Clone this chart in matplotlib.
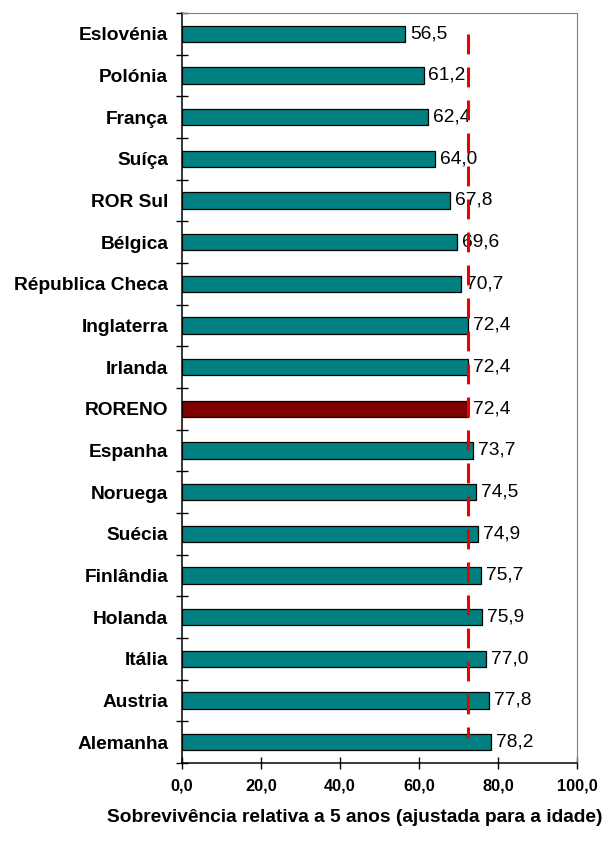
import numpy as np
import matplotlib
matplotlib.use('Agg')
import matplotlib.pyplot as plt
from matplotlib.ticker import FixedLocator

plt.rcParams['font.family'] = ['Liberation Sans', 'DejaVu Sans']

# ── Data ──────────────────────────────────────────────────────────────────
countries = ["Eslovénia", "Polónia", "França", "Suíça", "ROR Sul", "Bélgica",
             "Républica Checa", "Inglaterra", "Irlanda", "RORENO", "Espanha",
             "Noruega", "Suécia", "Finlândia", "Holanda", "Itália", "Austria",
             "Alemanha"]
survival = [56.5, 61.2, 62.4, 64.0, 67.8, 69.6, 70.7, 72.4, 72.4, 72.4, 73.7,
            74.5, 74.9, 75.7, 75.9, 77.0, 77.8, 78.2]
highlight = "RORENO"
reference_value = 72.4
x_ticks = [0, 20, 40, 60, 80, 100]
x_label = "Sobrevivência relativa a 5 anos (ajustada para a idade)"

TEAL = "#008080"
DARK_RED = "#800000"

fig = plt.figure(figsize=(6.16, 8.44), dpi=100)
ax = fig.add_axes([0.2955, 0.096, 0.6412, 0.8886])

y = np.arange(len(countries))
colors = [DARK_RED if c == highlight else TEAL for c in countries]
ax.barh(y, survival, height=0.39, color=colors, edgecolor='black',
        linewidth=0.9, zorder=2)

for yi, v in zip(y, survival):
    ax.text(v + 1.2, yi, f"{v:.1f}".replace(".", ","), va='center',
            ha='left', fontsize=13.8, zorder=3)

# reference line (RORENO)
ax.plot([reference_value, reference_value], [0, len(countries) - 1.1],
        color='#ee0000', lw=2.2, dashes=(6.5, 4.3), zorder=4)

ax.set_xlim(0, 100)
ax.set_ylim(len(countries) - 0.5, -0.5)

ax.set_yticks(y)
ax.set_yticklabels(countries, fontsize=13.8, fontweight='bold')
ax.tick_params(axis='y', which='major', length=0, pad=10)
ax.yaxis.set_minor_locator(FixedLocator(np.arange(-0.5, len(countries), 1.0)))
ax.tick_params(axis='y', which='minor', direction='inout', length=9,
               width=1)

ax.set_xticks(x_ticks)
ax.set_xticklabels([f"{t:.1f}".replace(".", ",") for t in x_ticks],
                   fontsize=11.8, fontweight='bold')
ax.tick_params(axis='x', direction='inout', length=9, width=1, pad=7)

# x label sits left of the axes centre in the original, ending near the edge
fig.text(355 / 616, 1 - 818 / 844, x_label, ha='center', va='center',
         fontsize=13.8, fontweight='bold')

for side in ['top', 'right']:
    ax.spines[side].set_color('#808080')
for side in ['left', 'bottom']:
    ax.spines[side].set_color('black')
    ax.spines[side].set_linewidth(1.1)

fig.savefig("out.png", dpi=100)
